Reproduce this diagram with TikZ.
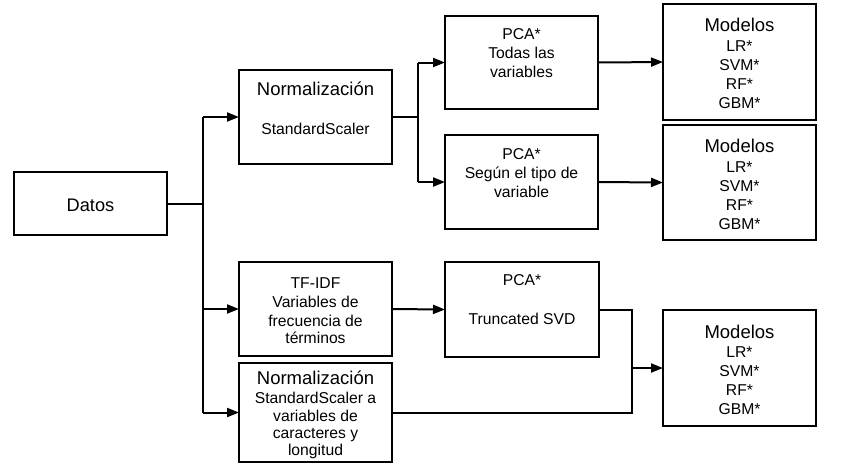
\documentclass[tikz,border=0pt]{standalone}
\usepackage{fontspec}
\setmainfont{Liberation Sans}
\usetikzlibrary{arrows.meta}
\newcommand\fTitle{\fontsize{18.5}{22}\selectfont}
\newcommand\fBody{\fontsize{15.7}{19}\selectfont}
\newcommand\fDatos{\fontsize{18.2}{22}\selectfont}
\tikzset{
  box/.style={draw, line width=1.8pt, inner sep=0pt, outer sep=0pt, minimum width=153pt},
  conn/.style={line width=2pt},
  arr/.style={conn, -{Triangle[length=12pt,width=9pt]}},
  tb/.style={inner sep=0pt, anchor=base, font=\fBody},
  tt/.style={inner sep=0pt, anchor=base, font=\fTitle},
}
\begin{document}
\begin{tikzpicture}[x=1pt,y=-1pt]
\useasboundingbox (0,0) rectangle (866,467);
% boxes
\node[box, minimum height=63pt] (datos) at (90.5,203.5) {};
\node[box, minimum height=94pt] (norm1) at (315.5,117) {};
\node[box, minimum height=94pt] (tfidf) at (315.5,309) {};
\node[box, minimum height=99pt] (norm2) at (315.5,412.5) {};
\node[box, minimum height=93pt] (pca1) at (521.5,62.5) {};
\node[box, minimum height=94pt] (pca2) at (521.5,182) {};
\node[box, minimum height=95pt, minimum width=154pt] (pca3) at (522,309.5) {};
\node[box, minimum height=116pt] (mod1) at (739.5,62) {};
\node[box, minimum height=115pt] (mod2) at (739.5,182.5) {};
\node[box, minimum height=116pt] (mod3) at (739.5,368) {};
% texts
\node[inner sep=0pt, anchor=base, font=\fDatos] (tdatos) at (90.5,211) {Datos};
\node[tt] (tn1a) at (315.5,95.5) {Normalización};
\node[tb] (tn1b) at (315.5,134) {StandardScaler};
\node[tb] (tp1a) at (521.5,39.3) {PCA*};
\node[tb] (tp1b) at (521.5,58.3) {Todas las};
\node[tb] (tp1c) at (521.5,77.3) {variables};
\node[tb] (tp2a) at (521.5,159.3) {PCA*};
\node[tb] (tp2b) at (521.5,178.3) {Según el tipo de};
\node[tb] (tp2c) at (521.5,197.3) {variable};
\node[tt] (tm1a) at (739.5,31.7) {Modelos};
\node[tb] (tm1b) at (739.5,51.7) {LR*};
\node[tb] (tm1c) at (739.5,70.7) {SVM*};
\node[tb] (tm1d) at (739.5,89.5) {RF*};
\node[tb] (tm1e) at (739.5,108.3) {GBM*};
\node[tt] (tm2a) at (739.5,152.3) {Modelos};
\node[tb] (tm2b) at (739.5,172.3) {LR*};
\node[tb] (tm2c) at (739.5,191.3) {SVM*};
\node[tb] (tm2d) at (739.5,210.1) {RF*};
\node[tb] (tm2e) at (739.5,229) {GBM*};
\node[tb] (tta) at (315.5,288.3) {TF-IDF};
\node[tb] (ttb) at (315.5,307.3) {Variables de};
\node[tb] (ttc) at (315.5,326) {frecuencia de};
\node[tb] (ttd) at (315.5,343.8) {términos};
\node[tb] (tp3a) at (522,285.7) {PCA*};
\node[tb] (tp3b) at (522,324) {Truncated SVD};
\node[tt] (tn2a) at (315.5,384) {Normalización};
\node[tb] (tn2b) at (315.5,403.5) {StandardScaler a};
\node[tb] (tn2c) at (315.5,421) {variables de};
\node[tb] (tn2d) at (315.5,438.5) {caracteres y};
\node[tb] (tn2e) at (315.5,455.5) {longitud};
\node[tt] (tm3a) at (739.5,338.3) {Modelos};
\node[tb] (tm3b) at (739.5,357.3) {LR*};
\node[tb] (tm3c) at (739.5,376.5) {SVM*};
\node[tb] (tm3d) at (739.5,395.3) {RF*};
\node[tb] (tm3e) at (739.5,414.3) {GBM*};
% junction columns
\coordinate (tx) at (203,0);
\coordinate (bx) at (418,0);
\coordinate (mx) at (631.5,0);
% connectors
\draw[conn] (datos.east) -- (datos.east -| tx);
\draw[conn] (norm1.west -| tx) -- (norm2.west -| tx);
\draw[arr] (norm1.west -| tx) -- (norm1.west);
\draw[arr] (tfidf.west -| tx) -- (tfidf.west);
\draw[arr] (norm2.west -| tx) -- (norm2.west);
\draw[conn] (norm1.east) -- (norm1.east -| bx);
\draw[conn] (pca1.west -| bx) -- (pca2.west -| bx);
\draw[arr] (pca1.west -| bx) -- (pca1.west);
\draw[arr] (pca2.west -| bx) -- (pca2.west);
\draw[arr] (pca1.east) -- (mod1.west);
\draw[arr] (pca2.east) -- (mod2.west);
\draw[arr] (tfidf.east) -- (pca3.west);
\draw[conn] (pca3.east) -- (pca3.east -| mx) -- (norm2.east -| mx) -- (norm2.east);
\draw[arr] (mod3.west -| mx) -- (mod3.west);
\end{tikzpicture}
\end{document}
